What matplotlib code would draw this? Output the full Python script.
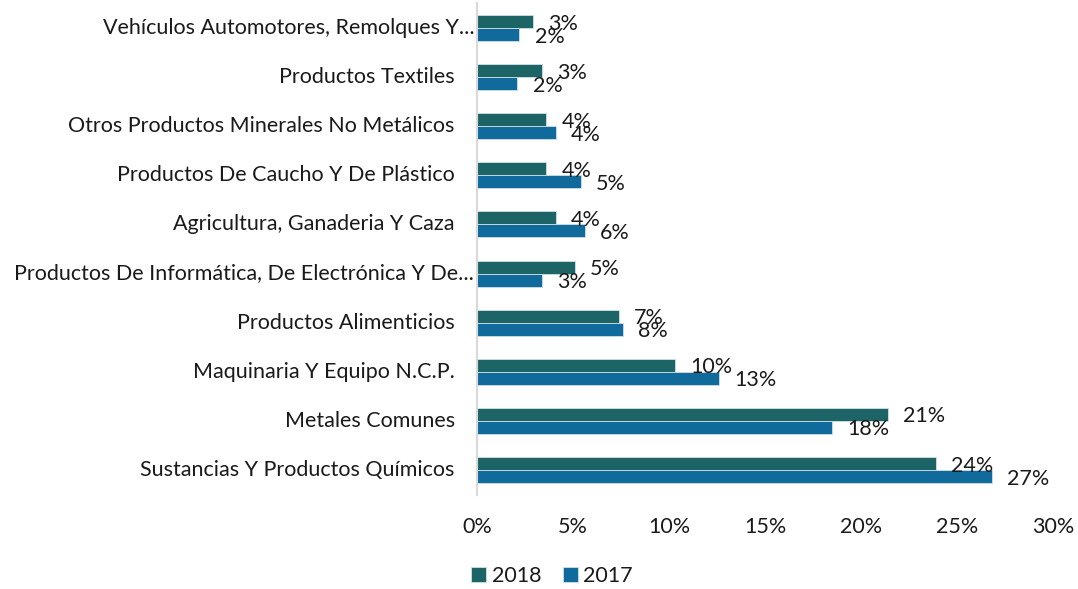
import matplotlib

matplotlib.use("Agg")
import matplotlib.pyplot as plt
import numpy as np
from matplotlib.ticker import FuncFormatter

categories = [
    "Vehículos Automotores, Remolques Y...",
    "Productos Textiles",
    "Otros Productos Minerales No Metálicos",
    "Productos De Caucho Y De Plástico",
    "Agricultura, Ganaderia Y Caza",
    "Productos De Informática, De Electrónica Y De...",
    "Productos Alimenticios",
    "Maquinaria Y Equipo N.C.P.",
    "Metales Comunes",
    "Sustancias Y Productos Químicos",
]
share_2018 = [2.9, 3.4, 3.6, 3.6, 4.1, 5.1, 7.4, 10.3, 21.4, 23.9]
share_2017 = [2.2, 2.1, 4.1, 5.4, 5.6, 3.4, 7.6, 12.6, 18.5, 26.8]
x_ticks = [0, 5, 10, 15, 20, 25, 30]

C_2018 = "#1d6466"
C_2017 = "#106a9b"
INK = "#1a1a1a"
FS = 15.5

plt.rcParams.update({
    "font.family": ["Lato", "DejaVu Sans"],
    "font.size": FS,
    "text.color": INK,
})

fig = plt.figure(figsize=(10.78, 5.89), dpi=100)
ax = fig.add_axes([0.4425, 0.1604, 0.5343, 0.8337])

y = np.arange(len(categories))
h = 0.265
b18 = ax.barh(y - h / 2, share_2018, height=h, color=C_2018,
              edgecolor="#cfe0e6", linewidth=0.6, label="2018")
b17 = ax.barh(y + h / 2, share_2017, height=h, color=C_2017,
              edgecolor="#cfe0e6", linewidth=0.6, label="2017")

# data labels just past the bar end
for bars, vals in ((b18, share_2018), (b17, share_2017)):
    for b, v in zip(bars, vals):
        ax.annotate(f"{v:.0f}%", xy=(v, b.get_y() + b.get_height() / 2),
                    xytext=(11, -1.5), textcoords="offset points",
                    ha="left", va="center", fontsize=FS, color=INK)

# category labels (truncated ones sit closer to the axis)
for i, name in enumerate(categories):
    off = -2 if name.endswith("...") else -16
    ax.annotate(name, xy=(0, i), xycoords=("axes fraction", "data"),
                xytext=(off, 0), textcoords="offset points",
                ha="right", va="center", fontsize=FS, color=INK)

ax.set_yticks([])
ax.set_ylim(len(categories) - 0.5, -0.5)
ax.set_xlim(0, 30)
ax.set_xticks(x_ticks)
ax.xaxis.set_major_formatter(FuncFormatter(lambda v, _: f"{v:.0f}%"))
ax.tick_params(axis="x", length=0, pad=16, labelsize=FS, labelcolor=INK)

for s in ("top", "right", "bottom"):
    ax.spines[s].set_visible(False)
ax.spines["left"].set_color("#d9d9d9")
ax.spines["left"].set_linewidth(1.5)

fig.legend(handles=[b18, b17], loc="center", bbox_to_anchor=(552 / 1078, 0.022),
           ncol=2, frameon=False, fontsize=FS, handlelength=0.7,
           handleheight=0.7, handletextpad=0.25, columnspacing=1.0)

fig.savefig("out.png", dpi=100)
